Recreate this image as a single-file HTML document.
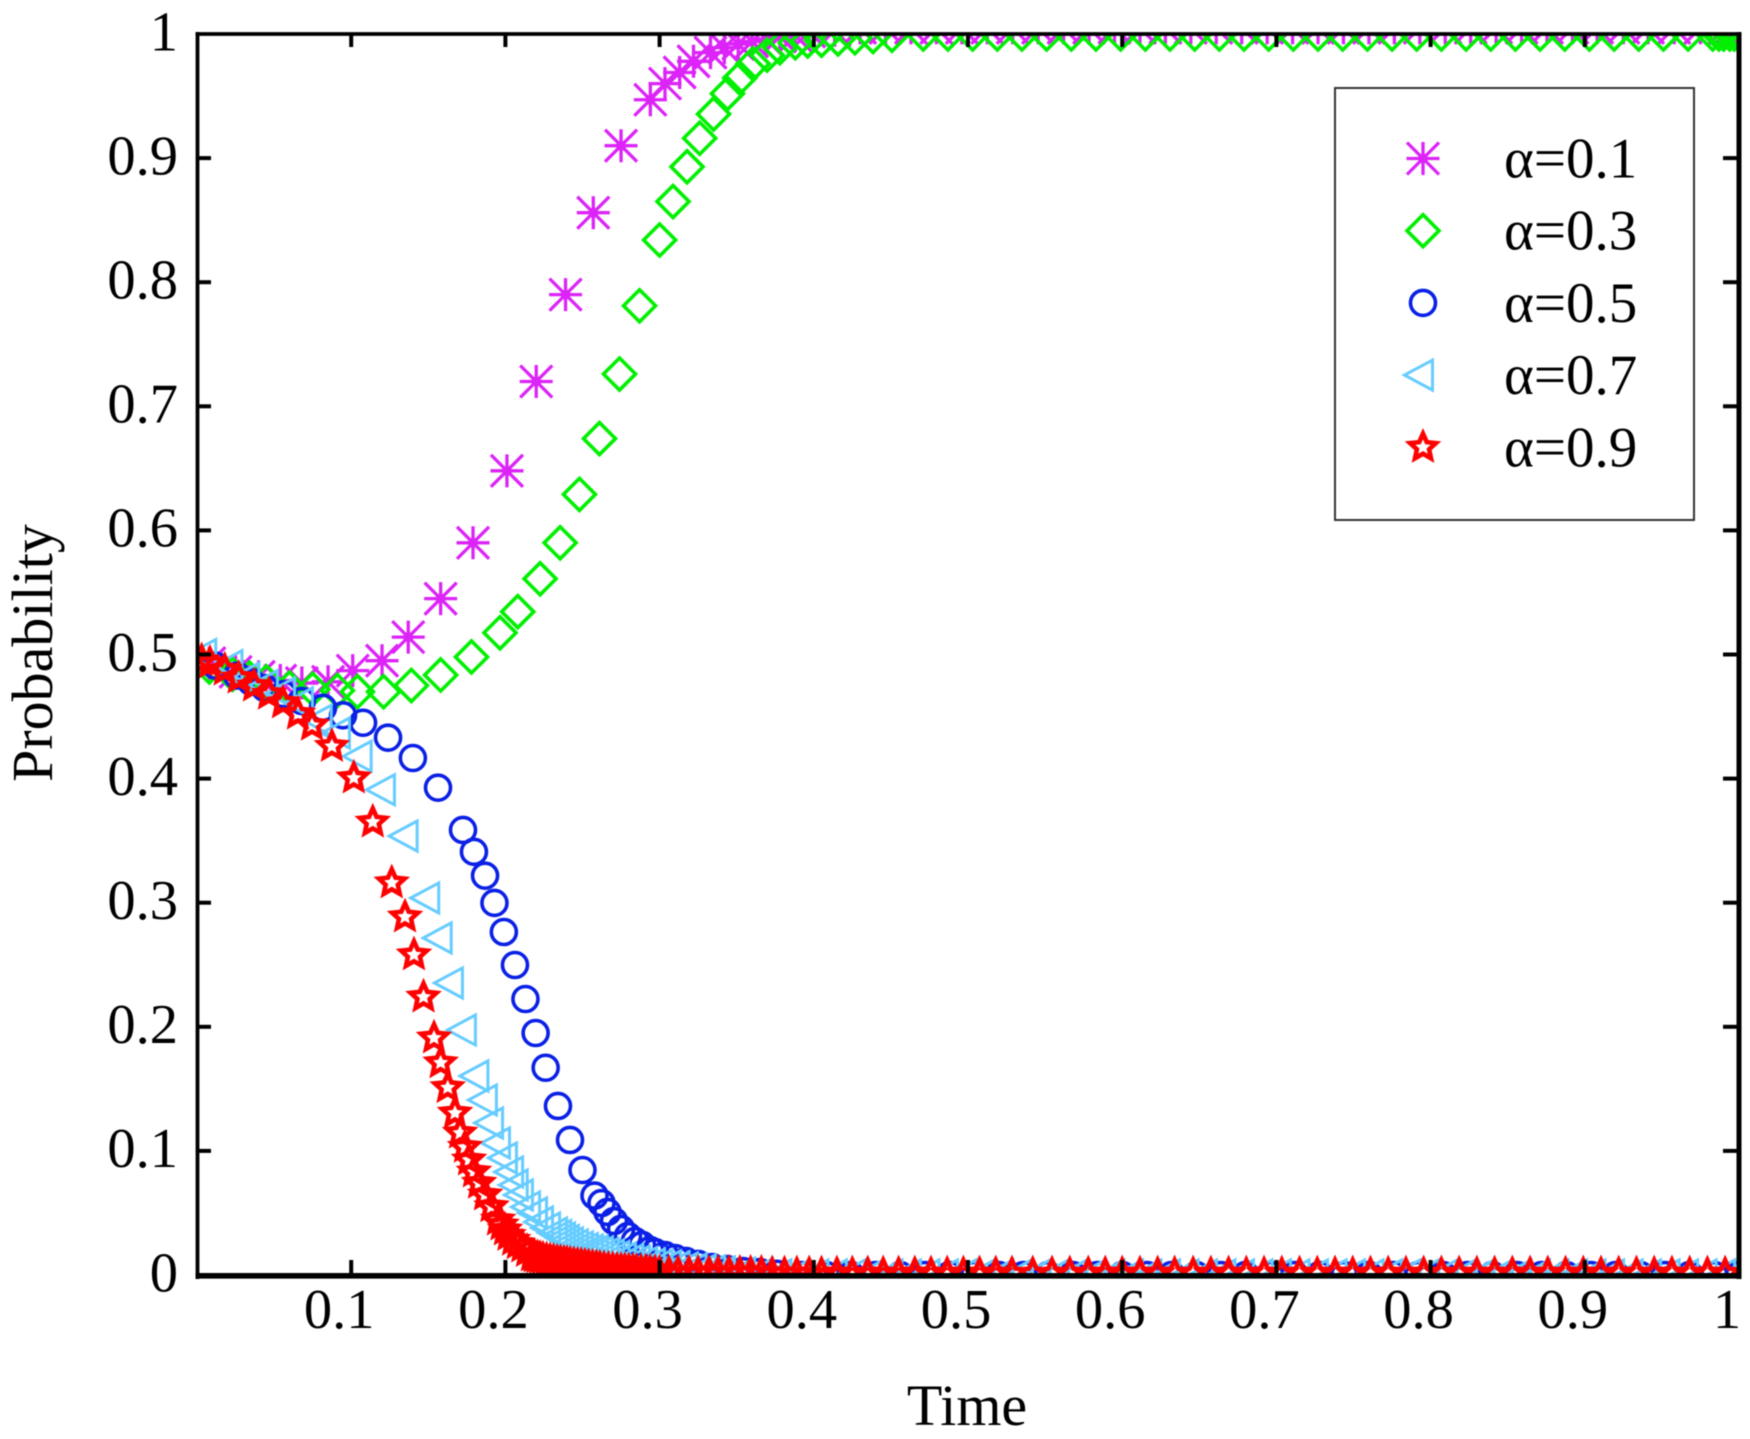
<!DOCTYPE html>
<html lang="en">
<head>
<meta charset="utf-8">
<title>Probability vs Time</title>
<style>
html,body{margin:0;padding:0;background:#fff;width:1750px;height:1439px;overflow:hidden}
svg{display:block;position:absolute;left:0;top:0;filter:blur(0.5px)}
text{font-family:"Liberation Serif","DejaVu Serif",serif;fill:#000}
</style>
</head>
<body>
<svg id="chart" xmlns="http://www.w3.org/2000/svg" width="1750" height="1439" viewBox="0 0 1750 1439">
  <defs>
    <clipPath id="plot-clip"><rect x="197" y="34" width="1542" height="1241"></rect></clipPath>
  </defs>
  <rect x="0" y="0" width="1750" height="1439" fill="#fff"></rect>
  <g id="series-layer" clip-path="url(#plot-clip)"></g>
  <g id="axes-layer"></g>
  <text x="967" y="1425" font-size="58" text-anchor="middle">Time</text>
  <text transform="translate(52,653) rotate(-90)" font-size="58" text-anchor="middle">Probability</text>
  <g id="legend">
    <rect x="1335" y="88" width="359" height="432" fill="#fff" stroke="#333" stroke-width="2"></rect>
  </g>
</svg>
<script>
const xTickValues = [0.1,0.2,0.3,0.4,0.5,0.6,0.7,0.8,0.9,1];
const xTickLabels = ['0.1','0.2','0.3','0.4','0.5','0.6','0.7','0.8','0.9','1'];
const yTickValues = [0,0.1,0.2,0.3,0.4,0.5,0.6,0.7,0.8,0.9,1];
const yTickLabels = ['0','0.1','0.2','0.3','0.4','0.5','0.6','0.7','0.8','0.9','1'];
const legendLabels = ['α=0.1','α=0.3','α=0.5','α=0.7','α=0.9'];

const alpha01Time = [.008,.025,.040,.054,.068,.085,.101,.120,.137,.158,.179,.201,.220,.239,.257,.275,.294,.3035,.313,.322,.333,.342,.351,.360,.369,.378,.388,
 .397,.4135,.43,.4465,.463,.4795,.496,.5125,.529,.5455,
 .562,.5785,.595,.6115,.628,.6445,.661,.6775,.694,.7105,
 .727,.7435,.76,.7765,.793,.8095,.826,.8425,.859,.8755,
 .892,.908,.925,.941,.958,.975,.991,.995,.998,1];
const alpha01Prob = [.493,.486,.482,.479,.477,.478,.487,.495,.514,.545,.590,.648,.720,.790,.856,.910,.947,.960,.969,.978,.985,.989,.992,.994,.996,.998,.999,
 1.002,1.003,1.005,1.005,1.005,1.005,1.005,1.005,1.005,1.005,
 1.005,1.005,1.005,1.005,1.005,1.005,1.005,1.005,1.005,1.005,
 1.005,1.005,1.005,1.005,1.005,1.005,1.005,1.005,1.005,1.005,
 1.005,1.005,1.005,1.005,1.005,1.005,1.005,1.005,1.005,1.005];

const alpha03Time = [.008,.023,.034,.045,.060,.075,.091,.104,.121,.139,.158,.178,.1965,.208,.2225,.2355,.248,.261,.274,.287,.300,.3087,.3178,.326,.335,.344,.352,.3606,.3697,.378,.388,.396,.405,.4157,.4267,.4384,.4507,
 .471,.487,.503,.519,.535,.551,.567,.583,.599,.615,
 .631,.647,.663,.679,.695,.711,.727,.743,.759,.775,
 .791,.807,.823,.839,.855,.871,.887,.903,.919,.935,
 .951,.967,.983,.987,.990,.994,.997,1];
const alpha03Prob = [.490,.484,.481,.478,.473,.472,.471,.470,.470,.475,.4835,.498,.5175,.5345,.561,.590,.629,.674,.726,.781,.834,.865,.893,.916,.9355,.952,.9645,.976,.983,.989,.993,.9944,.995,.996,.997,.998,.999,
 1,1,1,1,1,1,1,1,1,1,
 1,1,1,1,1,1,1,1,1,1,
 1,1,1,1,1,1,1,1,1,1,
 1,1,1,1,1,1,1,1];

const alpha05Time = [.012,.026,.035,.044,.056,.068,.0817,.0947,.1077,.1239,.140,.1563,.1725,.1796,.1868,.1929,.199,.2062,.213,.2196,.2261,.2341,.2419,.25,.2578,.2623,.2662,.2704,.275,.2795,.284,.2886,.2938,.297,.3035,.31,.317,.325,.334,.3437,.354,.365,
 .376,.392,.408,.424,.44,.456,.472,.488,.504,.52,
 .536,.552,.568,.584,.6,.616,.632,.648,.664,.68,
 .696,.712,.728,.744,.76,.776,.792,.808,.824,.84,
 .856,.872,.888,.904,.92,.936,.952,.968,.984,1];
const alpha05Prob = [.491,.483,.478,.473,.468,.4625,.457,.451,.445,.433,.4166,.3927,.3586,.341,.3218,.2998,.2764,.2498,.2224,.195,.167,.1362,.1088,.0846,.064,.058,.0508,.0435,.0371,.0314,.0274,.0242,.0201,.0185,.0161,.0137,.0113,.0089,.0064,.0048,.0032,.0024,
 .001,0,0,0,0,0,0,0,0,0,
 0,0,0,0,0,0,0,0,0,0,
 0,0,0,0,0,0,0,0,0,0,
 0,0,0,0,0,0,0,0,0,0];

const alpha07Time = [.006,.023,.034,.046,.0571,.0687,.0809,.0927,.1068,.1219,.1366,.1506,.1587,.166,.1744,.1825,.188,.192,.1965,.201,.205,.208,.2114,.216,.2205,.2244,.229,.2335,.2362,.2387,.2412,.2438,.247,.2503,.2535,.2568,.26,.2633,.267,.2704,.274,.2782,.283,.2873,.292,.297,.302,.3074,.313,.3184,.324,.33,.336,.3424,.3554,
 .367,.379,.391,.403,.415,.427,.439,.451,.463,.475,
 .487,.499,.511,.523,.535,.547,.559,.571,.583,.595,
 .607,.619,.631,.643,.655,.667,.679,.691,.703,.715,
 .727,.739,.751,.763,.775,.787,.799,.811,.823,.835,
 .847,.859,.871,.883,.895,.907,.919,.931,.943,.955,
 .967,.979,.991];
const alpha07Prob = [.50,.491,.481,.475,.469,.461,.447,.4367,.418,.391,.3537,.3038,.2716,.2353,.1974,.1604,.141,.1225,.1064,.0943,.083,.0725,.0645,.0548,.05,.0427,.0379,.0338,.0318,.0298,.0278,.0258,.0242,.0226,.0213,.0201,.0193,.0185,.0173,.0161,.0149,.0137,.0125,.0113,.0101,.0089,.0081,.0073,.0065,.0056,.0048,.004,.0032,.0024,.0016,
 .001,0,0,0,0,0,0,0,0,0,
 0,0,0,0,0,0,0,0,0,0,
 0,0,0,0,0,0,0,0,0,0,
 0,0,0,0,0,0,0,0,0,0,
 0,0,0,0,0,0,0,0,0,0,
 0,0,0];

const alpha09Time = [.003,.0084,.018,.027,.037,.0467,.0558,.0655,.0746,.0875,.1017,.114,.1263,.1349,.1407,.1469,.1537,.158,.1626,.1673,.1706,.1738,.1764,.1796,.1829,.1868,.191,.1952,.1975,.1997,.202,.205,.208,.211,.214,.2172,.219,.2208,.2226,.2244,.2267,.229,.2312,.2335,.2357,.238,.24,.242,.2444,.2468,.2492,.2516,.254,.2565,.259,.2613,.264,.2668,.2696,.2724,.275,.2775,.28,.2827,.285,.288,.291,.2938,.297,.30,
 .306,.312,.319,.325,.332,.338,.345,.352,.359,.366,
 .373,.381,.389,.397,.405,.415,.425,.435,.445,.455,
 .4655,.476,.4865,.497,.5075,.518,.5285,.542,.5545,.566,
 .578,.589,.6,.6115,.623,.634,.646,.6575,.669,.6805,
 .692,.7035,.715,.7265,.738,.7495,.761,.7725,.784,.7955,
 .807,.8185,.83,.8415,.853,.8645,.876,.8875,.899,.9105,
 .922,.9335,.945,.9565,.968,.9795,.991];
const alpha09Prob = [.495,.493,.4875,.481,.4746,.468,.461,.452,.443,.426,.4005,.365,.316,.2885,.258,.224,.191,.171,.151,.1305,.1144,.103,.0927,.083,.074,.0645,.055,.0443,.0403,.0363,.032,.028,.0252,.0226,.019,.0153,.0146,.014,.0134,.0129,.0123,.0117,.0111,.0105,.0101,.0097,.0093,.0089,.0085,.0081,.0077,.0073,.0069,.0065,.006,.0056,.0052,.0048,.0044,.004,.0038,.0036,.0034,.0032,.003,.0028,.0026,.0024,.002,.0016,
 .0015,.0015,.0015,.0015,.0015,.0015,.0015,.0015,.0015,.0015,
 .001,.001,.001,.001,.001,.001,.001,.001,.001,.001,
 .001,.001,.001,.001,.001,.001,.001,.001,.001,.001,
 .001,.001,.001,.001,.001,.001,.001,.001,.001,.001,
 .001,.001,.001,.001,.001,.001,.001,.001,.001,.001,
 .001,.001,.001,.001,.001,.001,.001,.001,.001,.001,
 .001,.001,.001,.001,.001,.001,.001];

const SVG_NS = 'http://www.w3.org/2000/svg';
const plotLeft = 197, plotRight = 1739, plotTop = 34, plotBottom = 1275;
function xScale(v){ return plotLeft + v * (plotRight - plotLeft); }
function yScale(v){ return plotBottom - v * (plotBottom - plotTop); }

function shape(parent, tag, attrs){
  const el = document.createElementNS(SVG_NS, tag);
  for (const k in attrs) el.setAttribute(k, attrs[k]);
  parent.appendChild(el);
  return el;
}

function starPoints(R, r){
  const pts = [];
  for (let i = 0; i < 10; i++){
    const a = -Math.PI / 2 + i * Math.PI / 5;
    const rad = i % 2 === 0 ? R : r;
    pts.push((rad * Math.cos(a)).toFixed(2) + ',' + (rad * Math.sin(a)).toFixed(2));
  }
  return pts.join(' ');
}

function drawGlyph(g, kind, color){
  if (kind === 'asterisk'){
    shape(g, 'path', {d:'M-16.5 0H16.5M0 -16.5V16.5M-16 -16L16 16M-16 16L16 -16', fill:'none', stroke:color, 'stroke-width':3.3});
    shape(g, 'circle', {cx:0, cy:0, r:5, fill:color});
  } else if (kind === 'diamond'){
    shape(g, 'polygon', {points:'0,-16 16,0 0,16 -16,0', fill:'none', stroke:color, 'stroke-width':3.6});
  } else if (kind === 'circle'){
    shape(g, 'circle', {cx:0, cy:0, r:12.5, fill:'none', stroke:color, 'stroke-width':3.6});
  } else if (kind === 'triangle'){
    shape(g, 'polygon', {points:'-18.5,0 9.5,-15 9.5,15', fill:'none', stroke:color, 'stroke-width':3});
  } else if (kind === 'star'){
    shape(g, 'polygon', {points:starPoints(13.6, 6.4), fill:'none', stroke:color, 'stroke-width':4.6, 'stroke-linejoin':'miter', 'stroke-miterlimit':6});
  }
}

const seriesLayer = document.getElementById('series-layer');
function drawSeries(name, times, probs, kind, color){
  const group = document.createElementNS(SVG_NS, 'g');
  
  
  seriesLayer.appendChild(group);
  const n = Math.min(times.length, probs.length);
  for (let i = 0; i < n; i++){
    const g = document.createElementNS(SVG_NS, 'g');
    
    
    g.setAttribute('transform', 'translate(' + xScale(times[i]).toFixed(2) + ',' + yScale(probs[i]).toFixed(2) + ')');
    drawGlyph(g, kind, color);
    group.appendChild(g);
  }
}

const colorMagenta = '#dc24f8', colorGreen = '#00f000', colorBlue = '#0a20e6', colorCyan = '#66ccff', colorRed = '#ff0000';
drawSeries('series-alpha-0-1', alpha01Time, alpha01Prob, 'asterisk', colorMagenta);
drawSeries('series-alpha-0-3', alpha03Time, alpha03Prob, 'diamond', colorGreen);
drawSeries('series-alpha-0-5', alpha05Time, alpha05Prob, 'circle', colorBlue);
drawSeries('series-alpha-0-7', alpha07Time, alpha07Prob, 'triangle', colorCyan);
drawSeries('series-alpha-0-9', alpha09Time, alpha09Prob, 'star', colorRed);

const axes = document.getElementById('axes-layer');
function line(name, x1, y1, x2, y2, w){
  const l = document.createElementNS(SVG_NS, 'line');
  
  
  l.setAttribute('x1', x1);
  l.setAttribute('y1', y1);
  l.setAttribute('x2', x2);
  l.setAttribute('y2', y2);
  l.setAttribute('stroke', '#000');
  l.setAttribute('stroke-width', w);
  axes.appendChild(l);
}
line('axis-left-spine', 197.5, 32, 197.5, 1279, 3.8);
line('axis-top-spine', 195.5, 34, 1741.5, 34, 3.8);
line('axis-right-spine', 1739, 32, 1739, 1279, 5);
line('axis-bottom-spine', 195.5, 1275.8, 1741.5, 1275.8, 5.6);

xTickValues.forEach(function(v, i){
  const x = xScale(v);
  if (v < 1){
    line('x-tick-bottom', x, 1260, x, 1275, 4);
    line('x-tick-top', x, 34, x, 47, 4);
  }
  const t = document.createElementNS(SVG_NS, 'text');
  
  
  t.setAttribute('x', (x - 12).toFixed(1));
  t.setAttribute('y', 1328);
  t.setAttribute('font-size', 56.5);
  t.setAttribute('text-anchor', 'middle');
  t.textContent = xTickLabels[i];
  axes.appendChild(t);
});

yTickValues.forEach(function(v, i){
  const y = yScale(v);
  if (v > 0 && v < 1){
    line('y-tick-left', 197, y, 211, y, 4);
    line('y-tick-right', 1723, y, 1739, y, 4);
  }
  const t = document.createElementNS(SVG_NS, 'text');
  
  
  t.setAttribute('x', 178);
  t.setAttribute('y', (y + 16.3).toFixed(1));
  t.setAttribute('font-size', 56.5);
  t.setAttribute('text-anchor', 'end');
  t.textContent = yTickLabels[i];
  axes.appendChild(t);
});

const legend = document.getElementById('legend');
const legendKinds = ['asterisk','diamond','circle','triangle','star'];
const legendColors = [colorMagenta, colorGreen, colorBlue, colorCyan, colorRed];
legendLabels.forEach(function(label, i){
  const cy = 158.5 + i * 72.2;
  const entry = document.createElementNS(SVG_NS, 'g');
  
  
  legend.appendChild(entry);
  const icon = document.createElementNS(SVG_NS, 'g');
  
  
  icon.setAttribute('transform', 'translate(1423,' + cy + ')');
  drawGlyph(icon, legendKinds[i], legendColors[i]);
  entry.appendChild(icon);
  const t = document.createElementNS(SVG_NS, 'text');
  
  
  t.setAttribute('x', 1504);
  t.setAttribute('y', cy + 19);
  t.setAttribute('font-size', 57);
  t.textContent = label;
  entry.appendChild(t);
});
</script>
</body>
</html>
